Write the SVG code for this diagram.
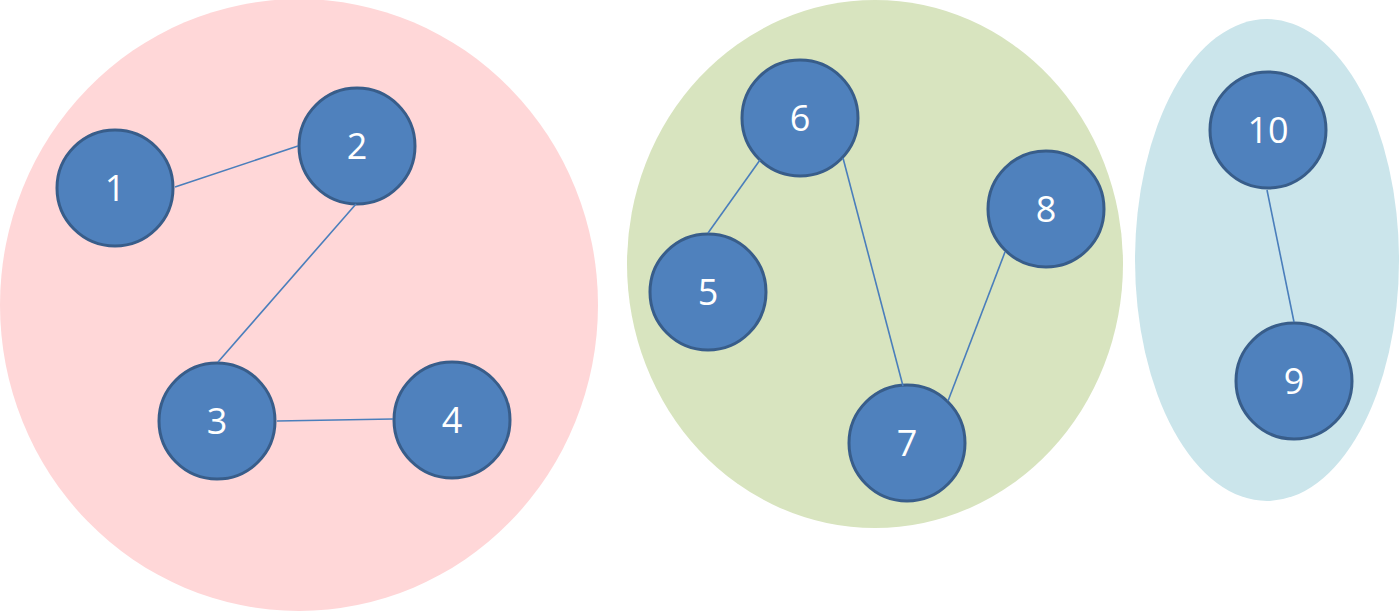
<svg xmlns="http://www.w3.org/2000/svg" width="1400" height="611" viewBox="0 0 1400 611">
  <style>
    .node circle { fill: #4F81BD; stroke: #385D8A; stroke-width: 3; }
    .node text { fill: #FFFFFF; font-family: "Open Sans", "Noto Sans", "DejaVu Sans", sans-serif; font-size: 36px; text-anchor: middle; }
    .edge { stroke: #4A7EBB; stroke-width: 1.6; fill: none; }
  </style>
  <rect width="1400" height="611" fill="#FFFFFF"/>
  <g id="groups">
    <ellipse id="group-red" cx="299" cy="305" rx="299" ry="306" fill="#FFD7D8"/>
    <ellipse id="group-green" cx="875" cy="264" rx="248" ry="264" fill="#D8E4BF"/>
    <ellipse id="group-blue" cx="1267" cy="260" rx="132" ry="241" fill="#CBE5EB"/>
  </g>
  <g id="node-1" class="node"><circle cx="115" cy="188" r="58"/><text x="115" y="201">1</text></g>
  <g id="node-2" class="node"><circle cx="357" cy="146" r="58"/><text x="357" y="159">2</text></g>
  <g id="node-3" class="node"><circle cx="217" cy="421" r="58"/><text x="217" y="434">3</text></g>
  <g id="node-4" class="node"><circle cx="452" cy="420" r="58"/><text x="452" y="433">4</text></g>
  <g id="node-5" class="node"><circle cx="708" cy="292" r="58"/><text x="708" y="305">5</text></g>
  <g id="node-6" class="node"><circle cx="800" cy="118" r="58"/><text x="800" y="131">6</text></g>
  <g id="node-7" class="node"><circle cx="907" cy="443" r="58"/><text x="907" y="456">7</text></g>
  <g id="node-8" class="node"><circle cx="1046" cy="209" r="58"/><text x="1046" y="222">8</text></g>
  <g id="node-9" class="node"><circle cx="1294" cy="381" r="58"/><text x="1294" y="394">9</text></g>
  <g id="node-10" class="node"><circle cx="1268" cy="130" r="58"/><text x="1268" y="143">10</text></g>
  <g id="connectors">
    <line class="edge" x1="175" y1="187" x2="298" y2="146"/>
    <line class="edge" x1="356" y1="204" x2="218" y2="362"/>
    <line class="edge" x1="277" y1="421" x2="393" y2="419"/>
    <line class="edge" x1="760" y1="160" x2="708" y2="233"/>
    <line class="edge" x1="843" y1="158" x2="903" y2="386"/>
    <line class="edge" x1="1005" y1="252" x2="948" y2="401"/>
    <line class="edge" x1="1267" y1="190" x2="1294" y2="322"/>
  </g>
</svg>
